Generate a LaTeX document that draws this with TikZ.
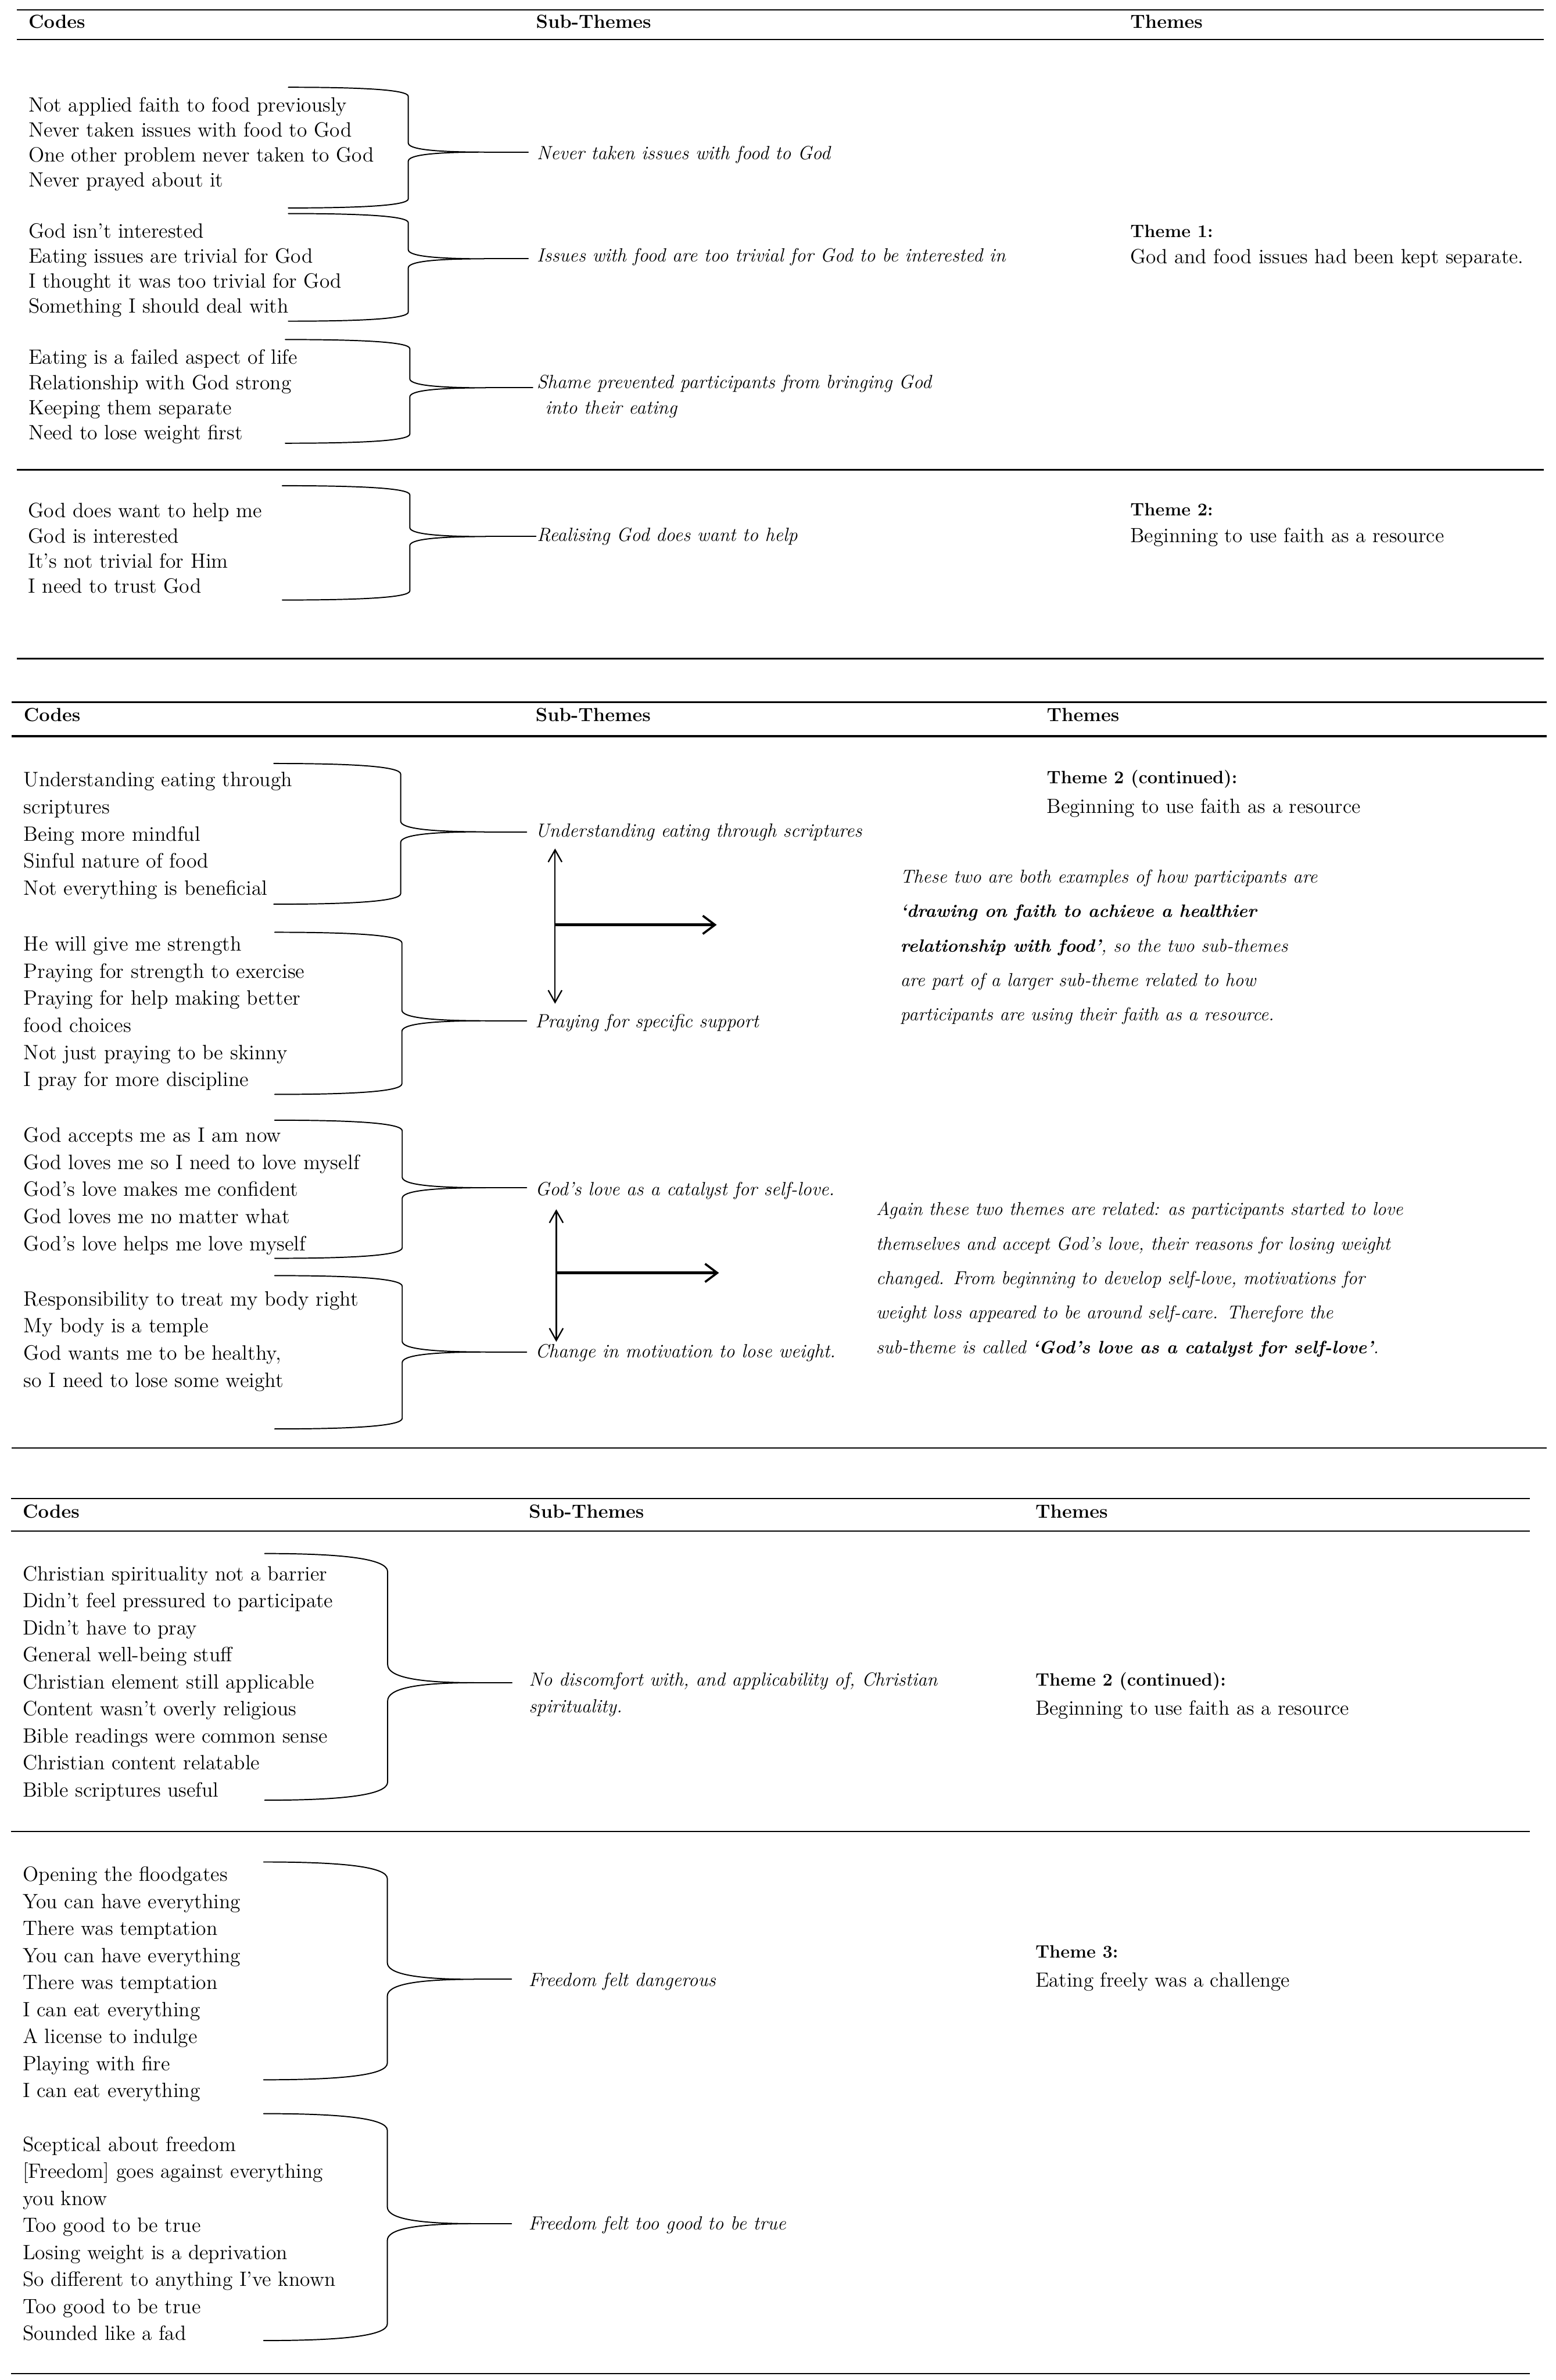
\documentclass[tikz,border=0pt]{standalone}
\usepackage{fontspec}
\usetikzlibrary{arrows.meta,calc}
\tikzset{
  hd/.style={anchor=base west, inner sep=0pt, font=\fontsize{12.5}{15}\selectfont\bfseries},
  cdA/.style={anchor=north west, inner sep=0pt, align=left, font=\fontsize{13.6}{16.55}\selectfont},
  cdB/.style={cdA, font=\fontsize{13.7}{17.85}\selectfont},
  cdC/.style={cdA, font=\fontsize{13.6}{17.8}\selectfont},
  sub/.style={anchor=base west, inner sep=0pt, font=\fontsize{12.6}{16.8}\selectfont\itshape},
  subm/.style={cdA, font=\fontsize{12.6}{16.8}\selectfont\itshape},
  subn/.style={cdA, font=\fontsize{12.5}{17.9}\selectfont\itshape},
  thmA/.style={cdA, font=\fontsize{13.5}{17.6}\selectfont},
  thmB/.style={cdA, font=\fontsize{13.5}{19.2}\selectfont},
  notep/.style={cdA, font=\fontsize{12.3}{22.75}\selectfont\itshape},
  bracel/.style={line width=0.75pt, line cap=round, line join=round},
  varr/.style={line width=0.9pt, {Straight Barb[length=8pt,width=9pt]}-{Straight Barb[length=8pt,width=9pt]}},
  harr/.style={line width=2pt, -{Straight Barb[length=8pt,width=12pt,line width=1.4pt]}},
}
\newcommand\bqa[1]{{\fontsize{11.8}{22.75}\selectfont\bfseries #1}}
% #1 L, #2 V, #3 top, #4 tip, #5 bot, #6 r, #7 c, #8 tip name
\newcommand\drawbrace[8]{%
  \coordinate (#8) at ({#2+#7},#4);
  \draw[bracel] (#1,#3) .. controls ({#1+0.6*(#2-#1)},#3) and (#2,{#3+0.25*#6}) .. (#2,{#3+#6})
    -- (#2,{#4-#6}) .. controls (#2,{#4-0.35*#6}) and ({#2+0.3*#7},#4) .. (#8)
    .. controls ({#2+0.3*#7},#4) and (#2,{#4+0.35*#6}) .. (#2,{#4+#6})
    -- (#2,{#5-#6}) .. controls (#2,{#5-0.25*#6}) and ({#1+0.6*(#2-#1)},#5) .. (#1,#5);
}
\begin{document}
\begin{tikzpicture}[x=1pt,y=-1pt]
\fill[white] (0,0) rectangle (1025,1568);
\useasboundingbox (0,0) rectangle (1025,1568);

% ================= Section 1 =================
\draw[line width=1pt] (11,6.5) -- (1017,6.5);
\draw[line width=0.9pt] (11,26) -- (1017,26);
\draw[line width=0.8pt] (11,309.5) -- (1017,309.5);
\draw[line width=1.3pt] (11,434) -- (1017,434);

\node[hd] (h1c) at (18.6,18.4) {Codes};
\node[hd] (h1s) at (353,18.4) {Sub-Themes};
\node[hd] (h1t) at (744.5,18.4) {Themes};

\node[cdA] (cA) at (18.6,63.8) {Not applied faith to food previously\\Never taken issues with food to God\\One other problem never taken to God\\Never prayed about it};
\node[cdA] (cB) at (18.6,146.8) {God isn’t interested\\Eating issues are trivial for God\\I thought it was too trivial for God\\Something I should deal with};
\node[cdA] (cC) at (18.6,230.2) {Eating is a failed aspect of life\\Relationship with God strong\\Keeping them separate\\Need to lose weight first};
\node[cdA] (cD) at (18.4,331.3) {God does want to help me\\God is interested\\It’s not trivial for Him\\I need to trust God};

\node[sub] (sA) at (353.5,105.1) {Never taken issues with food to God};
\node[sub] (sB) at (353.5,172.4) {Issues with food are too trivial for God to be interested in};
\node[subm] (sC) at (353.5,246.9) {Shame prevented participants from bringing God\\\hspace*{5.5pt}into their eating};
\node[sub] (sD) at (353.6,356.6) {Realising God does want to help};

\node[thmA] (t1) at (744.5,147.8) {{\fontsize{11.8}{17.6}\selectfont\bfseries Theme 1:}\\God and food issues had been kept separate.};
\node[thmA] (t2) at (744.5,331.3) {{\fontsize{11.8}{17.6}\selectfont\bfseries Theme 2:}\\Beginning to use faith as a resource};

\drawbrace{190}{269}{57.5}{100.2}{137}{6}{50}{tA}
\drawbrace{190}{269}{140.7}{170.5}{211.6}{6}{50}{tB}
\drawbrace{188}{270}{223.7}{255.5}{292}{6}{50}{tC}
\drawbrace{186}{270}{320}{353.5}{395.3}{6}{50}{tD}
\draw[bracel, shorten >=5.5pt] (tA) -- (tA -| sA.west);
\draw[bracel, shorten >=5.5pt] (tB) -- (tB -| sB.west);
\draw[bracel, shorten >=2.5pt] (tC) -- (tC -| sC.west);
\draw[bracel, shorten >=0.5pt] (tD) -- (tD -| sD.west);

% ================= Section 2 =================
\draw[line width=1.2pt] (7.7,462.6) -- (1019,462.6);
\draw[line width=1.2pt] (7.7,485) -- (1019,485);
\draw[line width=1pt] (7.7,954) -- (1019,954);

\node[hd] (h2c) at (15.4,475.1) {Codes};
\node[hd] (h2s) at (352.7,475.1) {Sub-Themes};
\node[hd] (h2t) at (689.5,475.1) {Themes};

\node[cdB] (cE) at (15.4,508.6) {Understanding eating through\\scriptures\\Being more mindful\\Sinful nature of food\\Not everything is beneficial};
\node[cdB] (cF) at (15.4,616.8) {He will give me strength\\Praying for strength to exercise\\Praying for help making better\\food choices\\Not just praying to be skinny\\I pray for more discipline};
\node[cdB] (cG) at (15.4,742.6) {God accepts me as I am now\\God loves me so I need to love myself\\God’s love makes me confident\\God loves me no matter what\\God’s love helps me love myself};
\node[cdB] (cH) at (15.4,850.6) {Responsibility to treat my body right\\My body is a temple\\God wants me to be healthy,\\so I need to lose some weight};

\node[sub] (sE) at (352.5,551.6) {Understanding eating through scriptures};
\node[sub] (sF) at (352.5,677.1) {Praying for specific support};
\node[sub] (sG) at (352.5,787.6) {God’s love as a catalyst for self-love.};
\node[sub] (sH) at (352.5,894.6) {Change in motivation to lose weight.};

\node[thmB] (t2c) at (689.5,507.3) {{\fontsize{11.8}{19.2}\selectfont\bfseries Theme 2 (continued):}\\Beginning to use faith as a resource};

\node[notep] (p1) at (593,572.7) {These two are both examples of how participants are\\\bqa{‘drawing on faith to achieve a healthier}\\\bqa{relationship with food’}, so the two sub-themes\\are part of a larger sub-theme related to how\\participants are using their faith as a resource.};
\node[notep] (p2) at (577,791.7) {Again these two themes are related: as participants started to love\\themselves and accept God’s love, their reasons for losing weight\\changed. From beginning to develop self-love, motivations for\\weight loss appeared to be around self-care. Therefore the\\sub-theme is called \bqa{‘God’s love as a catalyst for self-love’}.};

\drawbrace{180.4}{264}{503}{548}{595.7}{7}{55}{tE}
\drawbrace{181}{264.8}{614.2}{672.5}{721}{7}{55}{tF}
\drawbrace{181}{265}{738}{782.5}{829}{7}{55}{tG}
\drawbrace{181}{265}{840.4}{890.7}{941.4}{7}{55}{tH}
\draw[bracel, shorten >=5.5pt] (tE) -- (tE -| sE.west);
\draw[bracel, shorten >=5.5pt] (tF) -- (tF -| sF.west);
\draw[bracel, shorten >=5.5pt] (tG) -- (tG -| sG.west);
\draw[bracel, shorten >=5.5pt] (tH) -- (tH -| sH.west);

\coordinate (v1a) at (365.7,559);
\coordinate (v1b) at (365.7,661.3);
\coordinate (h1a) at (365.7,609.3);
\coordinate (h1b) at (472.2,609.3);
\draw[varr] (v1a) -- (v1b);
\draw[harr] (h1a) -- (h1b);

\coordinate (v2a) at (366.5,796.7);
\coordinate (v2b) at (366.5,884);
\coordinate (h2a) at (366.5,838.6);
\coordinate (h2b) at (473.7,838.6);
\draw[varr] (v2a) -- (v2b);
\draw[harr] (h2a) -- (h2b);

% ================= Section 3 =================
\draw[line width=1pt] (7.2,987.3) -- (1008,987.3);
\draw[line width=1pt] (7.2,1008.7) -- (1008,1008.7);
\draw[line width=0.8pt] (7.2,1206.7) -- (1008,1206.7);
\draw[line width=1pt] (7.2,1563.8) -- (1008,1563.8);

\node[hd] (h3c) at (14.8,1000.1) {Codes};
\node[hd] (h3s) at (348.3,1000.1) {Sub-Themes};
\node[hd] (h3t) at (682,1000.1) {Themes};

\node[cdC] (cI) at (14.8,1031.6) {Christian spirituality not a barrier\\Didn’t feel pressured to participate\\Didn’t have to pray\\General well-being stuff\\Christian element still applicable\\Content wasn’t overly religious\\Bible readings were common sense\\Christian content relatable\\Bible scriptures useful};
\node[cdC] (cJ) at (14.8,1229.7) {Opening the floodgates\\You can have everything\\There was temptation\\You can have everything\\There was temptation\\I can eat everything\\A license to indulge\\Playing with fire\\I can eat everything};
\node[cdC] (cK) at (14.8,1407.4) {Sceptical about freedom\\{}[Freedom] goes against everything\\you know\\Too good to be true\\Losing weight is a deprivation\\So different to anything I’ve known\\Too good to be true\\Sounded like a fad};

\node[subn] (sI) at (348.3,1101.6) {No discomfort with, and applicability of, Christian\\spirituality.};
\node[sub] (sJ) at (348,1308.6) {Freedom felt dangerous};
\node[sub] (sK) at (348,1469.1) {Freedom felt too good to be true};

\node[thmB] (t2d) at (682,1101.5) {{\fontsize{11.8}{19.2}\selectfont\bfseries Theme 2 (continued):}\\Beginning to use faith as a resource};
\node[thmB] (t3) at (682,1281.5) {{\fontsize{11.8}{19.2}\selectfont\bfseries Theme 3:}\\Eating freely was a challenge};

\drawbrace{174.4}{255.4}{1023.5}{1108.6}{1186}{12}{57}{tI}
\drawbrace{173.7}{255.2}{1226.7}{1304}{1370.2}{11}{57}{tJ}
\drawbrace{173.7}{255.2}{1392.5}{1465}{1542}{11}{57}{tK}
\draw[bracel, shorten >=11pt] (tI) -- (tI -| sI.west);
\draw[bracel, shorten >=11pt] (tJ) -- (tJ -| sJ.west);
\draw[bracel, shorten >=11pt] (tK) -- (tK -| sK.west);
\end{tikzpicture}
\end{document}
